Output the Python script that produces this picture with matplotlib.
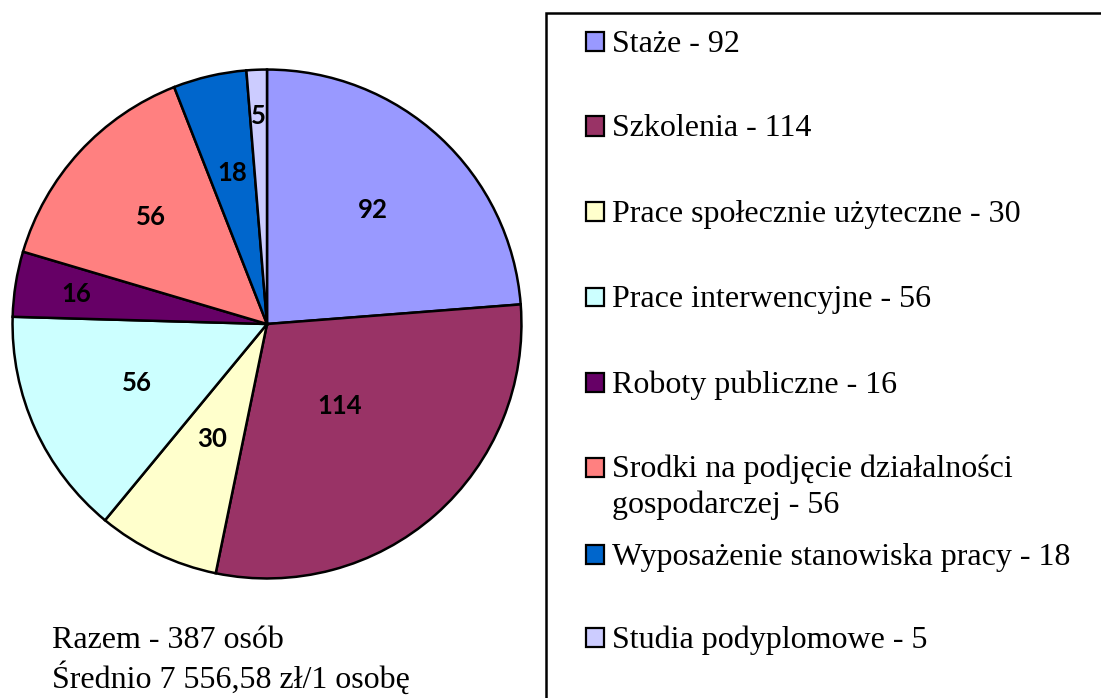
import matplotlib
matplotlib.use("Agg")
import matplotlib.pyplot as plt
from matplotlib.patches import Rectangle
import numpy as np

# data
categories = ["Staże", "Szkolenia", "Prace społecznie użyteczne", "Prace interwencyjne",
              "Roboty publiczne", "Srodki na podjęcie działalności\ngospodarczej",
              "Wyposażenie stanowiska pracy", "Studia podyplomowe"]
values = [92, 114, 30, 56, 16, 56, 18, 5]
colors = ["#9999FF", "#993366", "#FFFFCC", "#CCFFFF", "#660066", "#FF8080", "#0066CC", "#CCCCFF"]
# radial position of each value label (fraction of radius)
label_r = [0.61, 0.43, 0.50, 0.56, 0.76, 0.62, 0.61, 0.82]
summary = ["Razem - 387 osób", "Średnio 7 556,58 zł/1 osobę"]

W, H = 1101, 698
fig = plt.figure(figsize=(W / 100, H / 100), dpi=100)

# pie area (pixels): centre ~ (267, 324), radius ~257
cx, cy, r = 267, 324, 257
ax = fig.add_axes([(cx - r) / W, (H - cy - r) / H, 2 * r / W, 2 * r / H])
wedges, _ = ax.pie(values, colors=colors, startangle=90, counterclock=False, radius=1,
                   wedgeprops=dict(edgecolor="black", linewidth=1.8))
ax.set_xlim(-1.01, 1.01)
ax.set_ylim(-1.01, 1.01)
ax.axis("off")

for w, v, rf in zip(wedges, values, label_r):
    ang = np.deg2rad((w.theta1 + w.theta2) / 2)
    ax.text(rf * np.cos(ang), rf * np.sin(ang), str(v), ha="center", va="center",
            fontsize=18.5, fontweight="bold", family=["Lato", "DejaVu Sans"], color="black")

# legend frame running off the right and bottom edges
fig.patches.append(Rectangle((546 / W, -0.05), 0.6, (H - 13) / H + 0.05, transform=fig.transFigure,
                             facecolor="none", edgecolor="black", linewidth=1.8))

row_y = [41, 126, 211, 297, 382, 467, 554, 637]
serif = ["Liberation Serif", "DejaVu Serif"]
for cat, v, col, y in zip(categories, values, colors, row_y):
    fig.patches.append(Rectangle((586 / W, (H - y - 9.5) / H), 18 / W, 19 / H, transform=fig.transFigure,
                                 facecolor=col, edgecolor="black", linewidth=1.6))
    if "\n" in cat:
        fig.text(612 / W, (H - y + 12) / H, f"{cat} - {v}", ha="left", va="top",
                 fontsize=23, family=serif, linespacing=1.25)
    else:
        fig.text(612 / W, (H - y - 3) / H, f"{cat} - {v}", ha="left", va="center",
                 fontsize=23, family=serif)

fig.text(52 / W, (H - 640) / H, summary[0], ha="left", va="center", fontsize=23, family=serif)
fig.text(52 / W, (H - 678) / H, summary[1], ha="left", va="center", fontsize=23, family=serif)

fig.savefig("out.png", dpi=100)
